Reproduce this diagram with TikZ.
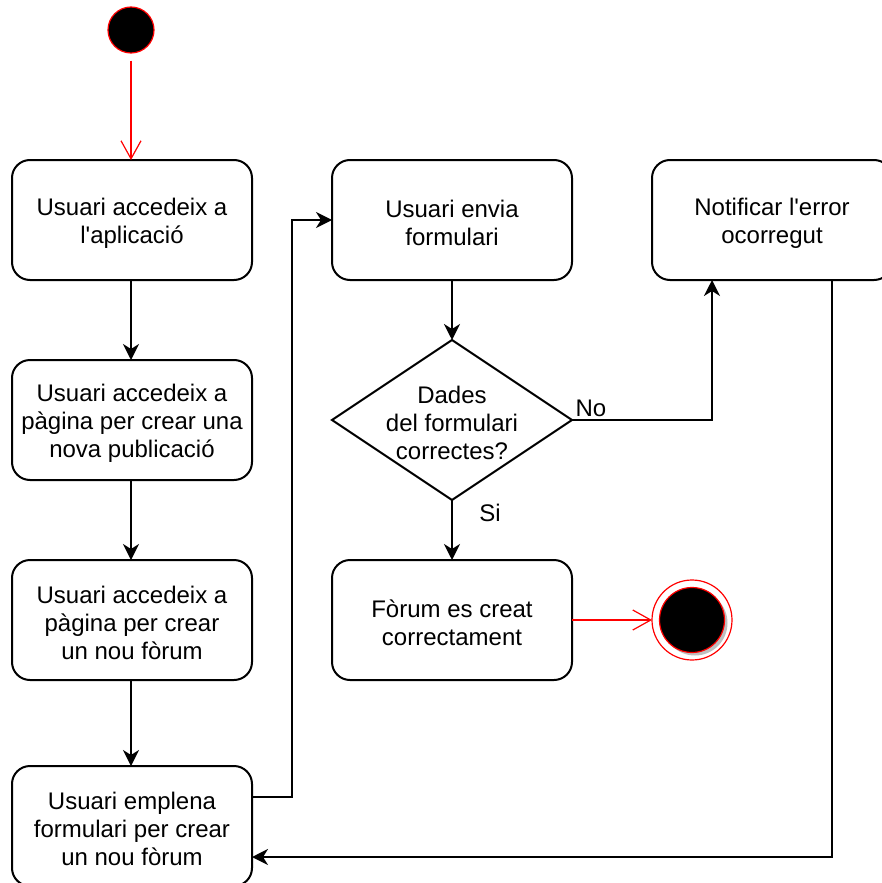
\documentclass[tikz,border=0pt]{standalone}
\usepackage{fontspec}
\setmainfont{Liberation Sans}
\usetikzlibrary{arrows.meta}
\begin{document}
\begin{tikzpicture}[x=0.5pt,y=-0.5pt,
  txt/.style={font=\fontsize{12}{14}\selectfont},
  lines/.style={txt, align=center, inner sep=0pt, yshift=-1.5pt},
  act/.style={draw, line width=1pt, rounded corners=9pt,
    minimum width=120pt, minimum height=60pt, inner sep=0pt},
  flow/.style={draw, line width=1pt, -{Stealth[length=8pt,width=8pt,inset=2.5pt]}},
  redflow/.style={draw=red, line width=0.6pt, -{Straight Barb[length=9pt,width=10pt,line width=0.6pt]}}
]
\useasboundingbox (0,0) rectangle (882,883);
\clip (0,0) rectangle (882,883);

% initial state
\node[circle, draw=red, fill=black, line width=0.6pt, minimum size=23pt, inner sep=0pt] (start) at (131,30) {};

% activity boxes
\node[act] (a1) at (132,220) {};
\node[act] (a2) at (132,420) {};
\node[act] (a3) at (132,620) {};
\node[act] (a4) at (132,826) {};
\node[act] (a5) at (452,220) {};
\node[act] (a6) at (772,220) {};
\node[act] (a7) at (452,620) {};

% activity texts
\node[lines] (t1) at (a1) {Usuari accedeix a\\l\textquotesingle aplicació};
\node[lines] (t2) at (a2) {Usuari accedeix a\\pàgina per crear una\\nova publicació};
\node[lines] (t3) at (a3) {Usuari accedeix a\\pàgina per crear\\un nou fòrum};
\node[lines] (t4) at (a4) {Usuari emplena\\formulari per crear\\un nou fòrum};
\node[lines] (t5) at (a5) {Usuari envia\\formulari};
\node[lines] (t6) at (a6) {Notificar l\textquotesingle error\\ocorregut};
\node[lines] (t7) at (a7) {Fòrum es creat\\correctament};

% decision
\coordinate (dt) at (452,340);
\coordinate (dr) at (572,420);
\coordinate (db) at (452,500);
\coordinate (dl) at (332,420);
\draw[line width=1pt, line join=miter] (dt) -- (dr) -- (db) -- (dl) -- cycle;
\node[lines] (dec) at (452,420) {Dades\\del formulari\\correctes?};

% final state
\fill[black!25] (695,623) circle (16.25pt);
\node[circle, draw=red, line width=0.6pt, minimum size=40pt, inner sep=0pt] (endring) at (692,620) {};
\node[circle, draw=red, fill=black, line width=0.6pt, minimum size=32.5pt, inner sep=0pt] (endin) at (692,620) {};

% connector end points
\coordinate (a1i) at (131,160);
\coordinate (a1o) at (131,280);
\coordinate (a2i) at (131,360);
\coordinate (a2o) at (131,480);
\coordinate (a3i) at (131,560);
\coordinate (a3o) at (131,680);
\coordinate (a4i) at (131,766);
\coordinate (a4o) at (252,797);
\coordinate (a4r) at (252,857);
\coordinate (a5i) at (332,220);
\coordinate (a5o) at (452,280);
\coordinate (a6i) at (712,280);
\coordinate (a6o) at (832,280);
\coordinate (a7i) at (452,560);
\coordinate (a7o) at (572,620);
\coordinate (endw) at (652,620);

% connectors
\draw[redflow, shorten <=3.5pt] (start) -- (a1i);
\draw[flow] (a1o) -- (a2i);
\draw[flow] (a2o) -- (a3i);
\draw[flow] (a3o) -- (a4i);
\draw[flow] (a4o) -- (292,797) |- (a5i);
\draw[flow] (a5o) -- (dt);
\draw[flow] (dr) -| (a6i);
\draw[flow] (db) -- (a7i);
\draw[redflow] (a7o) -- (endw);
\draw[flow] (a6o) |- (a4r);

% guard labels
\node[txt] (no) at (591,408) {No};
\node[txt] (si) at (490,513) {Si};
\end{tikzpicture}
\end{document}
